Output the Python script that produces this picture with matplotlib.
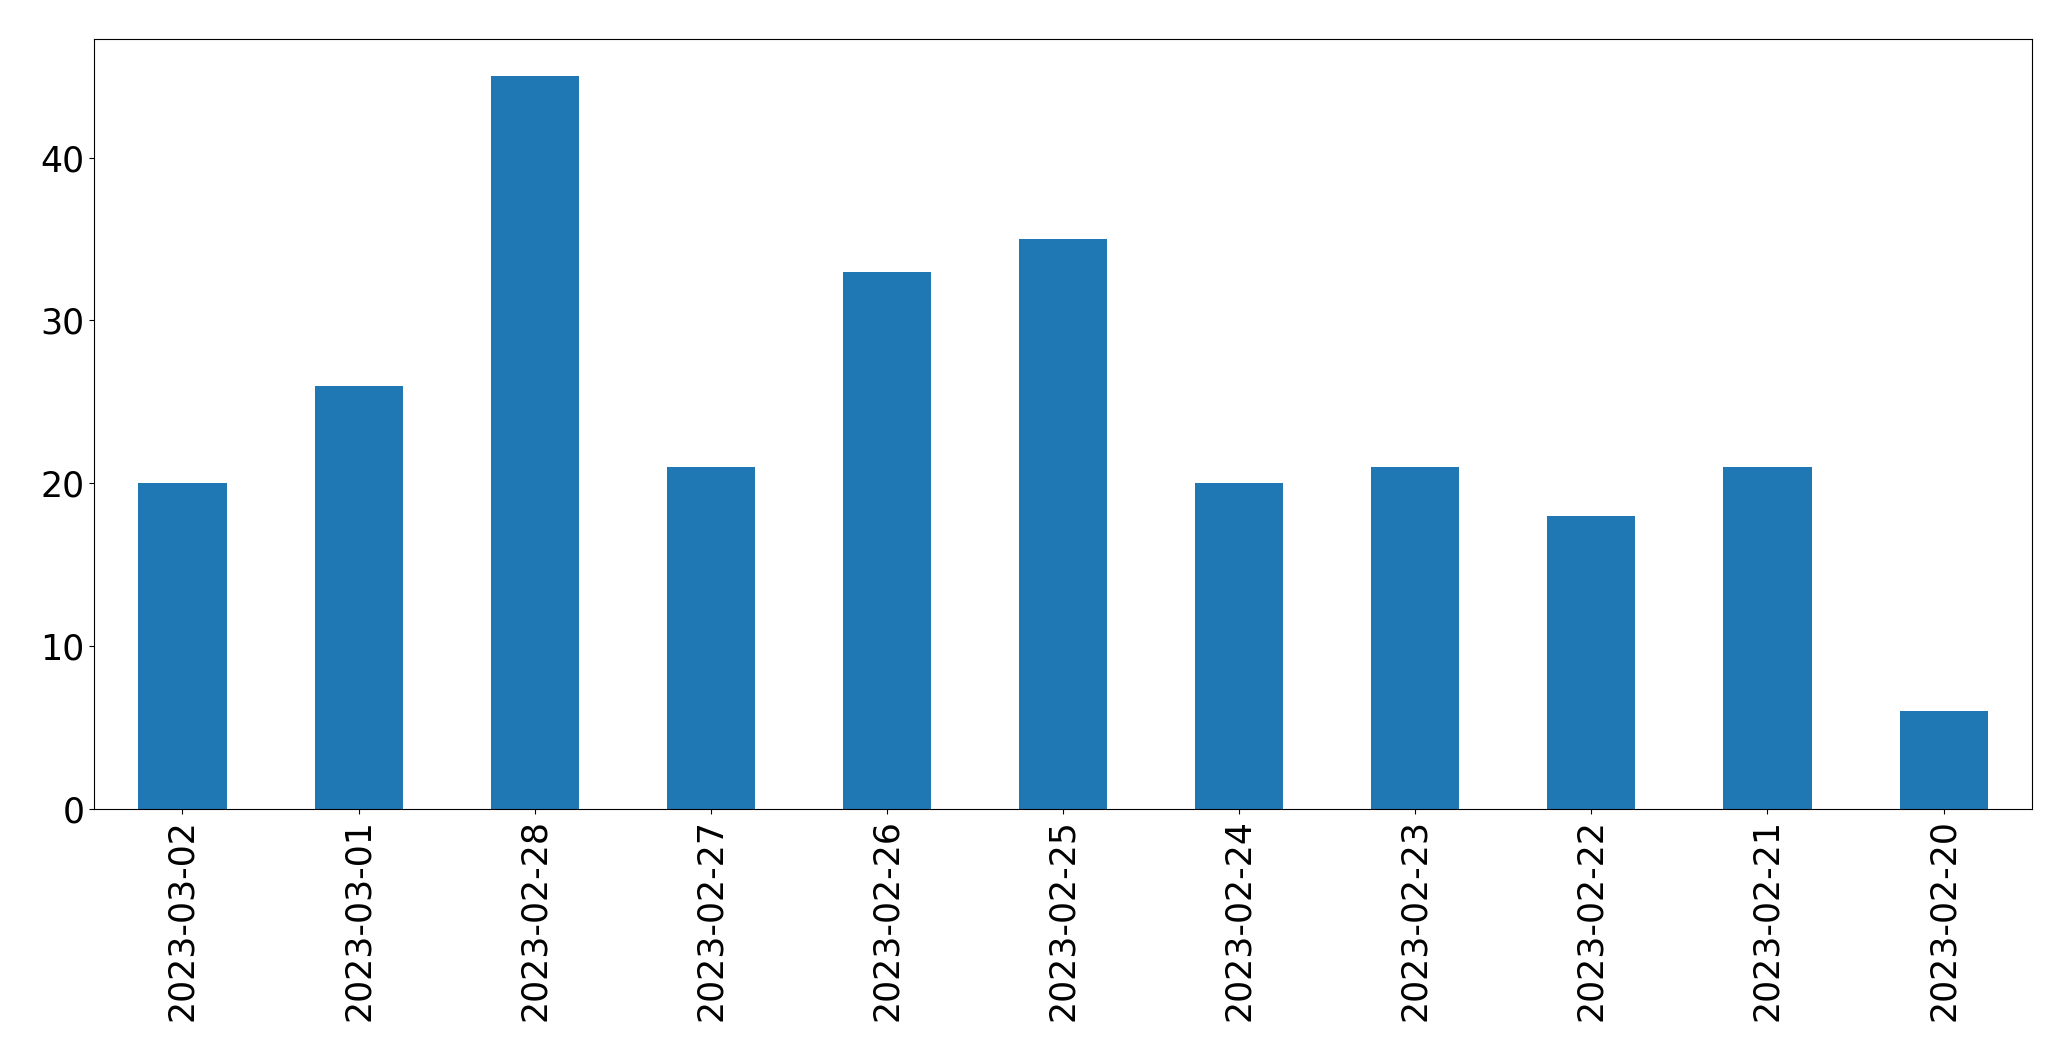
import matplotlib
matplotlib.use('Agg')
import matplotlib.pyplot as plt
import pandas as pd

dates = ['2023-03-02', '2023-03-01', '2023-02-28', '2023-02-27', '2023-02-26',
         '2023-02-25', '2023-02-24', '2023-02-23', '2023-02-22', '2023-02-21',
         '2023-02-20']
counts = [20, 26, 45, 21, 33, 35, 20, 21, 18, 21, 6]

s = pd.Series(counts, index=dates)

fig, ax = plt.subplots(figsize=(20.71, 10.61), dpi=100)
s.plot(kind='bar', ax=ax, color='#1f77b4', width=0.5)
ax.tick_params(axis='both', labelsize=25)
plt.subplots_adjust(left=0.0456, right=0.981, top=0.9628, bottom=0.2375)
plt.savefig('out.png', dpi=100)
